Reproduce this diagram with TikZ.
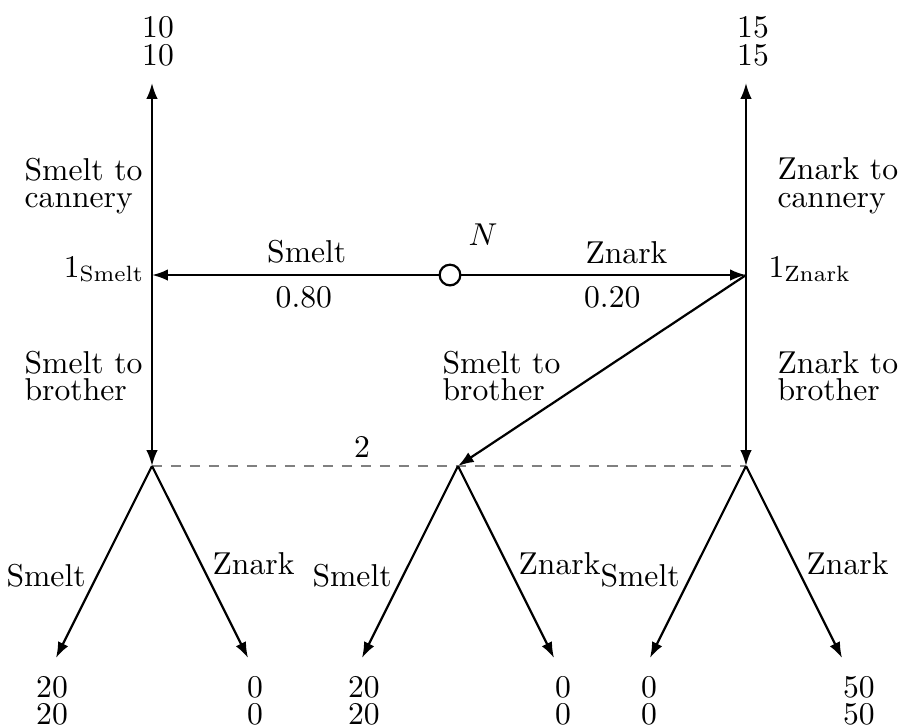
\documentclass[tikz,border=0pt]{standalone}
\usetikzlibrary{arrows.meta}
\begin{document}
\begin{tikzpicture}[
    branch/.style={-{Latex[length=5pt,width=3.6pt]}, line width=0.7pt},
    chance/.style={circle, draw, line width=0.7pt, fill=white, inner sep=0pt, minimum size=0.23cm},
    infoset/.style={gray, dash pattern=on 3.2pt off 2.8pt, thin},
    twoline/.style={align=center, font=\fontsize{10pt}{8.7pt}\selectfont, inner sep=0pt},
    lefttext/.style={align=left, font=\fontsize{10pt}{8.7pt}\selectfont, inner sep=0pt}]
        \useasboundingbox (0,0) rectangle (9.978,-8.078);

        % decision nodes
        \coordinate (s1) at (1.689,-3.056);
        \coordinate (z1) at (8.289,-3.056);
        \node[chance] (n) at (5.0,-3.056) {};
        \node (nlab) at (5.367,-2.611) {$N$};

        \coordinate (s1top) at (1.689,-0.922);
        \coordinate (z1top) at (8.289,-0.922);
        \coordinate (b1) at (1.689,-5.178);
        \coordinate (b2) at (5.089,-5.178);
        \coordinate (b3) at (8.289,-5.178);

        \coordinate (l1) at (0.622,-7.311);
        \coordinate (l2) at (2.756,-7.311);
        \coordinate (l3) at (4.022,-7.311);
        \coordinate (l4) at (6.156,-7.311);
        \coordinate (l5) at (7.222,-7.311);
        \coordinate (l6) at (9.356,-7.311);

        % nature
        \draw[branch] (n) -- node[pos=0.46, above] {Smelt} node[pos=0.47, below] {0.80} (s1);
        \draw[branch] (n) -- node[pos=0.58, above] {Znark} node[pos=0.53, below] {0.20} (z1);

        \node[anchor=base east, inner sep=0pt] (s1lab) at (1.611,-3.078) {$1_{\mathrm{Smelt}}$};
        \node[anchor=base west, inner sep=0pt] (z1lab) at (8.533,-3.078) {$1_{\mathrm{Znark}}$};

        % player 1
        \draw[branch] (s1) -- (s1top);
        \draw[branch] (z1) -- (z1top);
        \draw[branch] (s1) -- (b1);
        \draw[branch] (z1) -- (b2);
        \draw[branch] (z1) -- (b3);

        \node[lefttext, anchor=east] (sc) at (1.589,-2.067) {Smelt to\\cannery};
        \node[lefttext, anchor=west] (zc) at (8.633,-2.067) {Znark to\\cannery};
        \node[lefttext, anchor=east] (sb) at (1.589,-4.178) {Smelt to\\brother};
        \node[lefttext, anchor=west] (zsb) at (4.911,-4.178) {Smelt to\\brother};
        \node[lefttext, anchor=west] (zb) at (8.633,-4.178) {Znark to\\brother};

        \node[twoline] (p1) at (1.756,-0.461) {10\\10};
        \node[twoline] (p2) at (8.367,-0.461) {15\\15};

        % player 2
        \draw[infoset] (b1) -- (b3);
        \node (twolab) at (4.022,-4.967) {2};

        \draw[branch] (b1) -- node[pos=0.57, left] {Smelt} (l1);
        \draw[branch] (b1) -- node[pos=0.51, right] {Znark} (l2);
        \draw[branch] (b2) -- node[pos=0.57, left] {Smelt} (l3);
        \draw[branch] (b2) -- node[pos=0.51, right] {Znark} (l4);
        \draw[branch] (b3) -- node[pos=0.57, left] {Smelt} (l5);
        \draw[branch] (b3) -- node[pos=0.51, right] {Znark} (l6);

        \node[twoline] (q1) at (0.578,-7.789) {20\\20};
        \node[twoline] (q2) at (2.833,-7.789) {0\\0};
        \node[twoline] (q3) at (4.044,-7.789) {20\\20};
        \node[twoline] (q4) at (6.256,-7.789) {0\\0};
        \node[twoline] (q5) at (7.211,-7.789) {0\\0};
        \node[twoline] (q6) at (9.544,-7.789) {50\\50};
      \end{tikzpicture}
\end{document}
